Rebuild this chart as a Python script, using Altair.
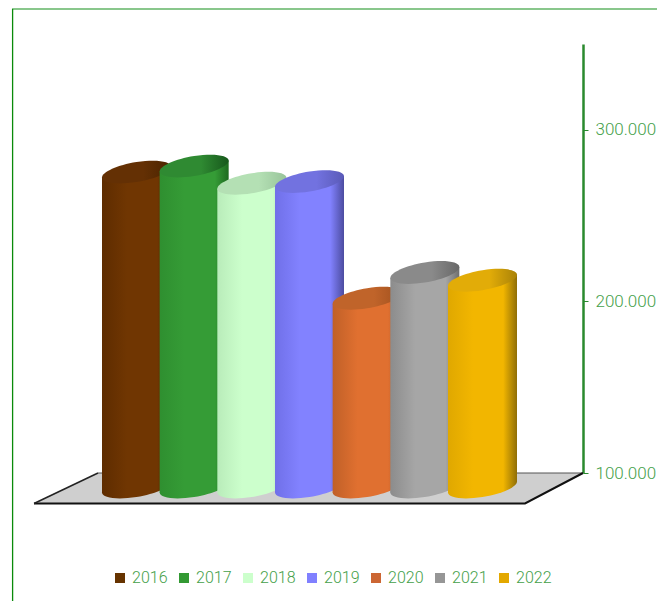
import altair as alt
import pandas as pd

years = ["2016", "2017", "2018", "2019", "2020", "2021", "2022"]
values = [283500, 287000, 277000, 278000, 210000, 225000, 220500]
base_colors = ["#663300", "#339933", "#CCFFCC", "#8080FF", "#CC6633", "#969696", "#E3A800"]
body_left = ["#5e2c00", "#2f8f30", "#b9ecba", "#7070e8", "#c06028", "#8c8c8c", "#e0a800"]
body_mid = ["#703602", "#359c36", "#ccffcc", "#8282ff", "#e07030", "#a6a6a6", "#f2b600"]
body_right = ["#3f1f00", "#1e6a20", "#a4d8a6", "#4c4ca0", "#a8552a", "#6e6e6e", "#8f6e08"]
top_left = ["#643004", "#2f8a32", "#b4e0b4", "#7272e0", "#c0642a", "#8a8a8a", "#e2ac08"]
top_right = ["#4a2400", "#17581c", "#98c49a", "#5a5ab8", "#a0501e", "#686868", "#a98208"]
tick_values = [100000, 200000, 300000]

GREEN = "#45a04a"
FONT = "Roboto"
W, H = 575, 429
HALF = 34.5
DEPTH = 14
SHEAR = 5.5
yscale = alt.Scale(domain=[100000, 350000], range=[H, 0], nice=False, zero=False)
xscale = alt.Scale(type="point", domain=years, range=[128.5, 474.5], padding=0)
yaxis = alt.Axis(
    orient="right", values=tick_values, grid=False, title=None,
    domainColor="#2a8a2e", domainWidth=2.5, tickColor="#2a8a2e", tickWidth=1, tickSize=5,
    labelColor=GREEN, labelFont=FONT, labelFontWeight=300, labelFontSize=17, labelPadding=7,
    labelExpr="replace(format(datum.value, ','), ',', '.')",
)


def ellipse_path(a, b, s):
    k = 0.5523
    A = (a, -s)
    B = (0, b)
    def pt(u, v):
        return f"{u*A[0]+v*B[0]:.2f},{u*A[1]+v*B[1]:.2f}"
    return (
        f"M{pt(1,0)} C{pt(1,k)} {pt(k,1)} {pt(0,1)} "
        f"C{pt(-k,1)} {pt(-1,k)} {pt(-1,0)} "
        f"C{pt(-1,-k)} {pt(-k,-1)} {pt(0,-1)} "
        f"C{pt(k,-1)} {pt(1,-k)} {pt(1,0)} Z"
    )


ELLIPSE = ellipse_path(HALF, 10, SHEAR)
df = pd.DataFrame({"year": years, "value": values})
base = pd.DataFrame({"n": [0]})


def hgrad(stops):
    return alt.Gradient(
        gradient="linear", x1=0, x2=1, y1=0, y2=0,
        stops=[alt.GradientStop(offset=o, color=c) for o, c in stops],
    )


layers = []
# outer frame
layers.append(alt.Chart(base).mark_rule(color="#62b566", strokeWidth=1.5).encode(
    x=alt.value(4), x2=alt.value(660), y=alt.value(-35)))
layers.append(alt.Chart(base).mark_rule(color="#0a8a0a", strokeWidth=1.3).encode(
    x=alt.value(4.6), y=alt.value(-35), y2=alt.value(557)))

# floor
floor_x = alt.value(0)
floor_y = alt.Y(datum=100000, scale=yscale, axis=yaxis)
layers.append(alt.Chart(base).mark_point(
    shape="M26,30 L517,30 L575,0 L90,0 Z", size=4, filled=True, fill="#cfcfcf", opacity=1
).encode(x=floor_x, y=floor_y))
layers.append(alt.Chart(base).mark_point(
    shape="M90,0 L575,0", size=4, filled=False, stroke="#555555", strokeWidth=1, opacity=1
).encode(x=floor_x, y=floor_y))
layers.append(alt.Chart(base).mark_point(
    shape="M26,30.5 L517,30.5 L575,0", size=4, filled=False, stroke="#111111", strokeWidth=2, opacity=1
).encode(x=floor_x, y=floor_y))
layers.append(alt.Chart(base).mark_point(
    shape="M26,30.5 L90,0", size=4, filled=False, stroke="#222222", strokeWidth=1.5, opacity=1
).encode(x=floor_x, y=floor_y))

# cylinders
for i, y in enumerate(years):
    row = df[df["year"] == y]
    body = hgrad([(0, body_left[i]), (0.35, body_mid[i]), (0.8, body_mid[i]), (1, body_right[i])])
    left_half = hgrad([(0, body_left[i]), (0.7, body_mid[i]), (1, body_mid[i])])
    right_half = hgrad([(0, body_mid[i]), (0.6, body_mid[i]), (1, body_right[i])])
    top = hgrad([(0, top_left[i]), (0.6, top_left[i]), (1, top_right[i])])
    x = alt.X("year:N", scale=xscale, axis=None)
    yenc = alt.Y("value:Q", scale=yscale, axis=yaxis)
    layers.append(alt.Chart(row).mark_point(
        shape=ELLIPSE, size=4, filled=True, fill=body, opacity=1, yOffset=DEPTH
    ).encode(x=x, y=alt.Y(datum=100000, scale=yscale, axis=yaxis)))
    # the two halves of the side wall meet the slanted end caps at their tips;
    # the left one runs 1px under the right one so no seam shows
    layers.append(alt.Chart(row).mark_bar(
        fill=left_half, size=HALF + 1, xOffset=-HALF / 2 + 0.5, yOffset=DEPTH + SHEAR, y2Offset=DEPTH + SHEAR
    ).encode(x=x, y=yenc, y2=alt.Y2(datum=100000)))
    layers.append(alt.Chart(row).mark_bar(
        fill=right_half, size=HALF, xOffset=HALF / 2, yOffset=DEPTH - SHEAR, y2Offset=DEPTH - SHEAR
    ).encode(x=x, y=yenc, y2=alt.Y2(datum=100000)))
    layers.append(alt.Chart(row).mark_point(
        shape=ELLIPSE, size=4, filled=True, fill=top, opacity=1, yOffset=DEPTH
    ).encode(x=x, y=yenc))

# legend carrier
layers.append(alt.Chart(df).mark_point(filled=True, size=0, shape="square").encode(
    x=alt.X("year:N", scale=xscale, axis=None),
    y=alt.Y("value:Q", scale=yscale, axis=yaxis),
    fill=alt.Fill("year:N", scale=alt.Scale(domain=years, range=base_colors), legend=alt.Legend(
        orient="none", legendX=104, legendY=526, direction="horizontal", columns=7, title=None,
        symbolType="square", symbolSize=100, symbolStrokeWidth=0, symbolOpacity=1,
        labelColor=GREEN, labelFont=FONT, labelFontWeight=300, labelFontSize=16, labelOffset=4,
        columnPadding=8, labelLimit=60,
    )),
))

chart = alt.layer(*layers).properties(
    width=W, height=H,
    padding={"left": 0, "top": 36, "right": 74, "bottom": 128},
    autosize=alt.AutoSizeParams(type="none"),
    background="white",
).configure_view(stroke=None)

chart.save("out.html", embed_options={"renderer": "svg", "actions": False})
